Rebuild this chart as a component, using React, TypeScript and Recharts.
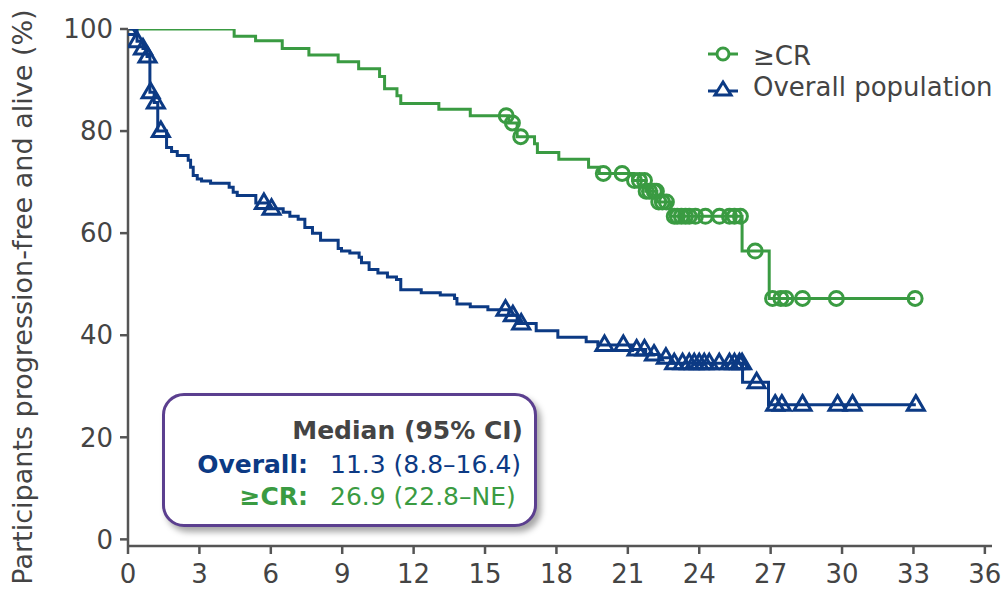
import { ComposedChart, Line, Scatter, XAxis, YAxis } from "recharts";

// step-function survival estimates: [month, % progression-free and alive]
const crSteps: [number, number][] = [
  [0, 100], [4.46, 98.6], [5.36, 97.7], [6.48, 96.2], [7.6, 94.9], [8.83, 93.6],
  [9.69, 92.2], [10.57, 90.7], [10.78, 88.3], [11.3, 86.9], [11.46, 85.4],
  [13.06, 84.3], [14.38, 83.0], [16.0, 81.6], [16.35, 78.9], [17.08, 77.5],
  [17.2, 75.8], [18.1, 74.5], [19.35, 72.9], [19.8, 71.7], [21.2, 70.3],
  [21.75, 68.2], [22.22, 66.1], [22.8, 63.3], [25.8, 56.5], [26.94, 47.2],
  [33.07, 47.2],
];
const crCensored: [number, number][] = [
  [15.89, 83.0], [16.15, 81.6], [16.5, 78.9], [19.97, 71.7], [20.76, 71.7],
  [21.28, 70.3], [21.49, 70.3], [21.7, 70.3], [21.77, 68.2], [21.91, 68.2],
  [22.11, 68.2], [22.2, 68.2], [22.3, 66.1], [22.45, 66.1], [22.62, 66.1],
  [22.95, 63.3], [23.08, 63.3], [23.25, 63.3], [23.42, 63.3], [23.58, 63.3],
  [23.84, 63.3], [24.26, 63.3], [24.85, 63.3], [25.27, 63.3], [25.48, 63.3],
  [25.73, 63.3], [26.35, 56.5], [27.08, 47.2], [27.43, 47.2], [27.64, 47.2],
  [28.34, 47.2], [29.76, 47.2], [33.07, 47.2],
];

const allSteps: [number, number][] = [
  [0, 100], [0.38, 97.6], [0.63, 96.2], [0.8, 94.6], [0.92, 87.6], [1.1, 85.6],
  [1.25, 80.0], [1.62, 76.8], [1.83, 76.0], [2.07, 75.2], [2.53, 74.3],
  [2.63, 72.9], [2.74, 71.3], [2.91, 70.6], [3.09, 70.2], [3.47, 69.8],
  [4.25, 69.0], [4.42, 68.0], [4.59, 67.4], [5.37, 65.9], [5.9, 64.8],
  [6.52, 64.1], [6.8, 63.3], [7.15, 62.7], [7.43, 61.1], [7.75, 60.0],
  [8.09, 58.6], [8.83, 57.0], [8.97, 56.5], [9.32, 56.1], [9.71, 55.3],
  [9.81, 54.2], [10.13, 52.9], [10.5, 52.2], [10.9, 51.4], [11.28, 50.9],
  [11.46, 48.9], [12.32, 48.3], [13.12, 47.9], [13.72, 47.2], [13.82, 46.1],
  [14.38, 45.6], [15.12, 45.0], [16.0, 43.9], [16.35, 42.3], [17.15, 40.9],
  [18.06, 39.6], [19.25, 38.7], [19.74, 38.1], [21.2, 37.2], [21.75, 36.2],
  [22.3, 35.6], [22.8, 34.5], [25.82, 30.8], [26.91, 26.4], [33.1, 26.4],
];
const allCensored: [number, number][] = [
  [0, 100], [0.38, 97.6], [0.63, 96.2], [0.82, 94.6], [0.95, 87.6], [1.17, 85.6],
  [1.38, 80.0], [5.71, 65.9], [6.03, 64.8], [15.86, 45.0], [16.17, 43.9],
  [16.52, 42.3], [20.02, 38.1], [20.81, 38.1], [21.37, 37.2], [21.7, 37.2],
  [22.1, 36.2], [22.6, 35.6], [22.95, 34.5], [23.3, 34.5], [23.58, 34.5],
  [23.79, 34.5], [24.0, 34.5], [24.21, 34.5], [24.42, 34.5], [24.84, 34.5],
  [25.27, 34.5], [25.48, 34.5], [25.69, 34.5], [25.8, 34.5], [26.41, 30.8],
  [27.19, 26.4], [27.47, 26.4], [28.34, 26.4], [29.81, 26.4], [30.44, 26.4],
  [33.1, 26.4],
];

const xTicks = [0, 3, 6, 9, 12, 15, 18, 21, 24, 27, 30, 33, 36];
const yTicks = [0, 20, 40, 60, 80, 100];

const GREEN = "#3a9b42";
const BLUE = "#0c3a84";
const AXIS = "#555";
const TEXT = "#444";
const FONT = "'DejaVu Sans', Verdana, sans-serif";

const toRows = (arr: [number, number][]) => arr.map(([t, s]) => ({ t, s }));

const Ring = (props: any) => (
  <circle cx={props.cx} cy={props.cy} r={7} fill="none" stroke={GREEN} strokeWidth={3} />
);
const Tri = (props: any) => {
  const { cx, cy } = props;
  return (
    <path
      d={`M${cx},${cy - 9} L${cx + 8.5},${cy + 5.5} L${cx - 8.5},${cy + 5.5} Z`}
      fill="none"
      stroke={BLUE}
      strokeWidth={3}
    />
  );
};

export default function App() {
  return (
    <div style={{ position: "absolute", left: 0, top: 0, width: 1005, height: 592, background: "#fff", fontFamily: FONT }}>
      <ComposedChart width={1005} height={592} margin={{ top: 29, right: 13, bottom: 0, left: 0 }}>
        <XAxis
          type="number"
          dataKey="t"
          domain={[0, 36.3]}
          ticks={xTicks}
          interval={0}
          allowDataOverflow
          height={46}
          stroke={AXIS}
          strokeWidth={2.5}
          tickSize={8}
          tickMargin={11}
          tick={{ fill: TEXT, fontSize: 26, fontFamily: FONT }}
        />
        <YAxis
          type="number"
          dataKey="s"
          domain={[-1.3, 100]}
          ticks={yTicks}
          interval={0}
          allowDataOverflow
          width={128}
          stroke={AXIS}
          strokeWidth={2.5}
          tickSize={8}
          tickMargin={7}
          tick={{ fill: TEXT, fontSize: 26, fontFamily: FONT }}
        />
        <Line data={toRows(crSteps)} dataKey="s" type="stepAfter" stroke={GREEN} strokeWidth={3} dot={false} activeDot={false} isAnimationActive={false} />
        <Scatter data={toRows(crCensored)} dataKey="s" shape={Ring} isAnimationActive={false} />
        <Line data={toRows(allSteps)} dataKey="s" type="stepAfter" stroke={BLUE} strokeWidth={3} dot={false} activeDot={false} isAnimationActive={false} />
        <Scatter data={toRows(allCensored)} dataKey="s" shape={Tri} isAnimationActive={false} />
      </ComposedChart>

      <div
        style={{
          position: "absolute", left: 22, top: 297, transform: "translate(-50%, -50%) rotate(-90deg)",
          whiteSpace: "nowrap", fontSize: 27, color: TEXT,
        }}
      >
        Participants progression-free and alive (%)
      </div>

      <svg style={{ position: "absolute", left: 700, top: 30 }} width={305} height={80}>
        <line x1={8} y1={24} x2={38} y2={24} stroke={GREEN} strokeWidth={3} />
        <circle cx={23} cy={24} r={6} fill="#fff" stroke={GREEN} strokeWidth={3} />
        <text x={53} y={35} fontSize={26} fill={TEXT} fontFamily={FONT}>≥CR</text>
        <line x1={8} y1={61} x2={38} y2={61} stroke={BLUE} strokeWidth={3} />
        <path d="M23,52 L31,65 L15,65 Z" fill="#fff" stroke={BLUE} strokeWidth={3} />
        <text x={53} y={66} fontSize={26} fill={TEXT} fontFamily={FONT}>Overall population</text>
      </svg>

      <div
        style={{
          position: "absolute", left: 162, top: 393, width: 375, height: 134, boxSizing: "border-box",
          border: "3px solid #5b3f8f", borderRadius: 22, background: "#fff",
          boxShadow: "4px 5px 6px rgba(0,0,0,0.35)", fontSize: 25, lineHeight: "29px",
        }}
      >
        <div style={{ position: "absolute", right: 11, top: 20, fontWeight: "bold", color: TEXT }}>Median (95% CI)</div>
        <div style={{ position: "absolute", right: 226, top: 54, fontWeight: "bold", color: BLUE }}>Overall:</div>
        <div style={{ position: "absolute", left: 165, top: 54, color: BLUE }}>11.3 (8.8–16.4)</div>
        <div style={{ position: "absolute", right: 226, top: 86, fontWeight: "bold", color: GREEN }}>≥CR:</div>
        <div style={{ position: "absolute", left: 165, top: 86, color: GREEN }}>26.9 (22.8–NE)</div>
      </div>
    </div>
  );
}
